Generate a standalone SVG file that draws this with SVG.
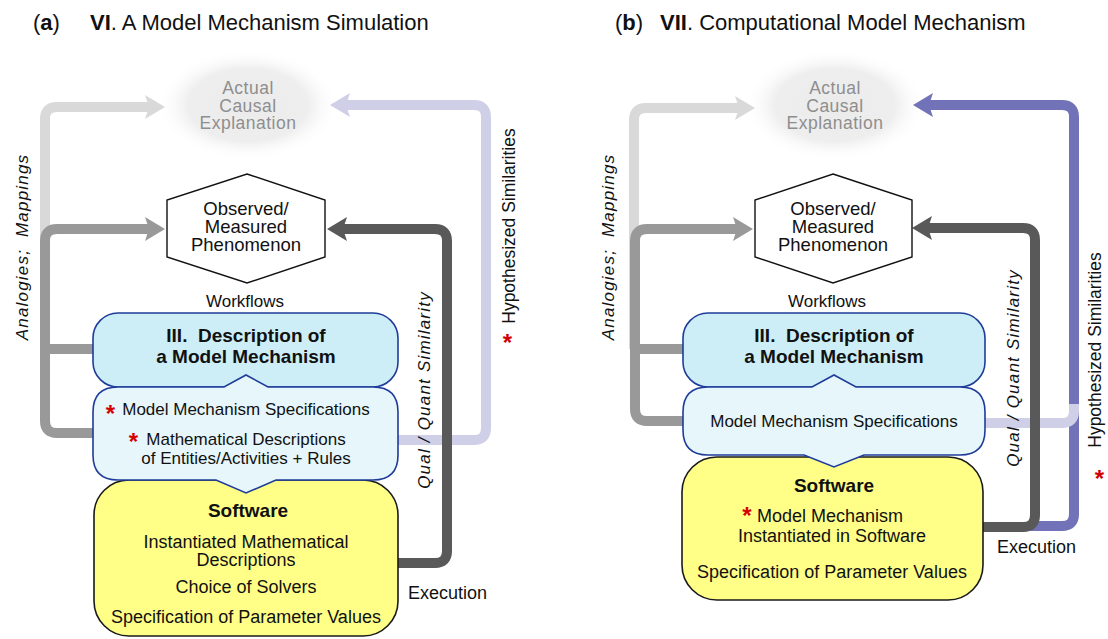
<svg xmlns="http://www.w3.org/2000/svg" width="1108" height="639" viewBox="0 0 1108 639">
<style>
text{font-family:"Liberation Sans",Arial,Helvetica,sans-serif;fill:#111}
.title{font-size:22px}
.c{text-anchor:middle}
.glow{font-size:17.5px;fill:#8e8e8e;letter-spacing:0.5px}
.hex{font-size:18.5px}
.wf{font-size:17px}
.hd{font-size:19px;font-weight:bold}
.sp{font-size:17px}
.sw{font-size:18px}
.lab{font-size:17px;font-style:italic;letter-spacing:1.2px}
.hyp{font-size:17.5px}
.ast{font-size:24px;font-weight:bold;fill:#d40000;text-anchor:middle}
.ln{fill:none;stroke-width:10;stroke-linejoin:round}
.desc{fill:#cdeef6;stroke:#1f3c99;stroke-width:1.6}
.spec{fill:#e6f6fb;stroke:#1f3c99;stroke-width:1.6}
.soft{fill:#ffff88;stroke:#1a1a1a;stroke-width:1.6}
.hexs{fill:#fff;stroke:#111;stroke-width:1.4}
</style>
<defs>
<radialGradient id="g" cx="0.5" cy="0.5" r="0.5">
<stop offset="0" stop-color="#ebebeb"/>
<stop offset="0.65" stop-color="#eeeeee"/>
<stop offset="1" stop-color="#ffffff" stop-opacity="0"/>
</radialGradient>
<marker id="mL" markerUnits="userSpaceOnUse" markerWidth="20" markerHeight="24" refX="4" refY="12" orient="auto"><path d="M0,0 L20,12 L0,24 L4,12 Z" fill="#d9d9d9"/></marker>
<marker id="mM" markerUnits="userSpaceOnUse" markerWidth="20" markerHeight="24" refX="4" refY="12" orient="auto"><path d="M0,0 L20,12 L0,24 L4,12 Z" fill="#999999"/></marker>
<marker id="mD" markerUnits="userSpaceOnUse" markerWidth="20" markerHeight="24" refX="4" refY="12" orient="auto"><path d="M0,0 L20,12 L0,24 L4,12 Z" fill="#595959"/></marker>
<marker id="mV" markerUnits="userSpaceOnUse" markerWidth="20" markerHeight="24" refX="4" refY="12" orient="auto"><path d="M0,0 L20,12 L0,24 L4,12 Z" fill="#cfd0e8"/></marker>
<marker id="mB" markerUnits="userSpaceOnUse" markerWidth="20" markerHeight="24" refX="4" refY="12" orient="auto"><path d="M0,0 L20,12 L0,24 L4,12 Z" fill="#7272b8"/></marker>
</defs>

<!-- titles -->
<text class="title" x="33" y="30">(<tspan font-weight="bold">a</tspan>)</text>
<text class="title" x="90" y="30"><tspan font-weight="bold">VI</tspan>. A Model Mechanism Simulation</text>
<text class="title" x="615" y="30">(<tspan font-weight="bold">b</tspan>)</text>
<text class="title" x="660" y="30"><tspan font-weight="bold">VII</tspan>. Computational Model Mechanism</text>

<!-- glow nodes -->
<g id="a-actual">
<ellipse cx="248" cy="105" rx="92" ry="56" fill="url(#g)"/>
<text class="glow c" x="248" y="94">Actual</text>
<text class="glow c" x="248" y="112">Causal</text>
<text class="glow c" x="248" y="129">Explanation</text>
</g>
<g id="b-actual">
<ellipse cx="835" cy="105" rx="92" ry="56" fill="url(#g)"/>
<text class="glow c" x="835" y="94">Actual</text>
<text class="glow c" x="835" y="112">Causal</text>
<text class="glow c" x="835" y="129">Explanation</text>
</g>

<!-- connectors -->
<g id="connectors">
<!-- panel a -->
<path class="ln" stroke="#d9d9d9" d="M45 349 V119 Q45 107 57 107 H149" marker-end="url(#mL)"/>
<path class="ln" stroke="#999999" d="M94 433 H57 Q45 433 45 421 V241 Q45 229 57 229 H149" marker-end="url(#mM)"/>
<path class="ln" stroke="#999999" d="M94 349 H45"/>
<path class="ln" stroke="#cfd0e8" d="M398 440 H474 Q486 440 486 428 V117 Q486 105 474 105 H346" marker-end="url(#mV)"/>
<path class="ln" stroke="#595959" d="M398 563 H435 Q447 563 447 551 V241 Q447 229 435 229 H343" marker-end="url(#mD)"/>
<!-- panel b -->
<path class="ln" stroke="#d9d9d9" d="M634 349 V120 Q634 108 646 108 H739" marker-end="url(#mL)"/>
<path class="ln" stroke="#999999" d="M684 421 H647 Q635 421 635 409 V241 Q635 229 647 229 H737" marker-end="url(#mM)"/>
<path class="ln" stroke="#999999" d="M684 349 H635"/>
<path class="ln" stroke="#7272b8" d="M1030 526 H1062 Q1074 526 1074 514 V117 Q1074 105 1062 105 H929" marker-end="url(#mB)"/>
<path class="ln" stroke="#cfd0e8" d="M985 423 H1062 Q1074 423 1074 411 V404"/>
<path class="ln" stroke="#595959" d="M983 527 H1023 Q1035 527 1035 515 V240 Q1035 228 1023 228 H928" marker-end="url(#mD)"/>
</g>

<!-- panel a nodes -->
<g id="a-phenomenon">
<polygon class="hexs" points="247,174 325,200 325,257 247,283 167,257 167,200"/>
<text class="hex c" x="246" y="215">Observed/</text>
<text class="hex c" x="246" y="233">Measured</text>
<text class="hex c" x="246" y="251">Phenomenon</text>
</g>
<text class="wf c" x="245" y="307">Workflows</text>
<g id="a-description">
<rect class="desc" x="93" y="313" width="305" height="74" rx="25"/>
<text class="hd c" x="246" y="342">III.&#160; Description of</text>
<text class="hd c" x="246" y="363">a Model Mechanism</text>
</g>
<g id="a-software">
<rect class="soft" x="94" y="480" width="304" height="156" rx="35"/>
<text class="hd c" x="248" y="517">Software</text>
<text class="sw c" x="246" y="548">Instantiated Mathematical</text>
<text class="sw c" x="246" y="566">Descriptions</text>
<text class="sw c" x="246" y="593">Choice of Solvers</text>
<text class="sw c" x="246" y="623">Specification of Parameter Values</text>
</g>
<g id="a-specifications">
<path class="spec" d="M118 387 H224 L246 375 L268 387 H373 Q398 387 398 412 V455 Q398 480 373 480 H276 L246 493 L216 480 H118 Q93 480 93 455 V412 Q93 387 118 387 Z"/>
<text class="ast" x="110.5" y="422">*</text>
<text class="sp c" x="246" y="415">Model Mechanism Specifications</text>
<text class="ast" x="133.5" y="450">*</text>
<text class="sp c" x="246" y="445">Mathematical Descriptions</text>
<text class="sp c" x="246" y="464">of Entities/Activities + Rules</text>
</g>
<text class="lab c" transform="translate(28,247) rotate(-90)">Analogies;&#160; Mappings</text>
<text class="lab c" transform="translate(430,390) rotate(-90)">Qual / Quant Similarity</text>
<text class="hyp c" transform="translate(515,226) rotate(-90)">Hypothesized Similarities</text>
<text class="ast" x="507.5" y="351">*</text>
<text class="sw" x="408" y="599">Execution</text>

<!-- panel b nodes -->
<g id="b-phenomenon">
<polygon class="hexs" points="833,174 912,200 912,257 833,283 755,257 755,200"/>
<text class="hex c" x="833" y="215">Observed/</text>
<text class="hex c" x="833" y="233">Measured</text>
<text class="hex c" x="833" y="251">Phenomenon</text>
</g>
<text class="wf c" x="827" y="307">Workflows</text>
<g id="b-description">
<rect class="desc" x="683" y="313" width="302" height="74" rx="25"/>
<text class="hd c" x="834" y="342">III.&#160; Description of</text>
<text class="hd c" x="834" y="363">a Model Mechanism</text>
</g>
<g id="b-software">
<rect class="soft" x="682" y="457" width="301" height="143" rx="35"/>
<text class="hd c" x="834" y="492">Software</text>
<text class="ast" x="747" y="524">*</text>
<text class="sw c" x="830" y="522">Model Mechanism</text>
<text class="sw c" x="832" y="542">Instantiated in Software</text>
<text class="sw c" x="832" y="578">Specification of Parameter Values</text>
</g>
<g id="b-specifications">
<path class="spec" d="M708 387 H812 L834 375 L856 387 H960 Q985 387 985 412 V430 Q985 455 960 455 H864 L834 467 L804 455 H708 Q683 455 683 430 V412 Q683 387 708 387 Z"/>
<text class="sp c" x="834" y="427">Model Mechanism Specifications</text>
</g>
<text class="lab c" transform="translate(614,247) rotate(-90)">Analogies;&#160; Mappings</text>
<text class="lab c" transform="translate(1019,368) rotate(-90)">Qual / Quant Similarity</text>
<text class="hyp c" transform="translate(1101,350) rotate(-90)">Hypothesized Similarities</text>
<text class="ast" x="1099.5" y="487">*</text>
<text class="sw" x="997" y="553">Execution</text>
</svg>
